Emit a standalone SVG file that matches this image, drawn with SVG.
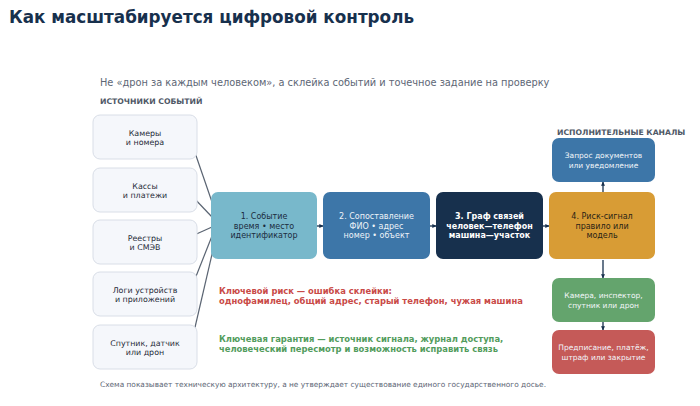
<svg xmlns="http://www.w3.org/2000/svg" width="700" height="406" viewBox="0 0 700 406">
<defs>
<style>
text{font-family:"DejaVu Sans","Noto Sans",sans-serif}
.title{font-size:16.8px;font-weight:bold;fill:#17304d}
.sub{font-size:9.8px;fill:#5d6675}
.sec{font-size:7.7px;font-weight:bold;fill:#4f5866}
.src rect{fill:#f5f7fb;stroke:#d9dee7;stroke-width:1}
.src text{font-size:7.9px;fill:#1f2a38;text-anchor:middle}
.main text{font-size:8px;text-anchor:middle}
.ch text{font-size:7.5px;fill:#f3f6fa;text-anchor:middle}
.note{font-size:8.4px;font-weight:bold}
.foot{font-size:7.4px;fill:#5d6675}
.feed{stroke:#5a6472;stroke-width:1.2;fill:none}
.flow{stroke:#17304d;stroke-width:1.3;fill:none;marker-end:url(#ah)}
</style>
<marker id="ah" viewBox="0 0 6 6" refX="5.5" refY="3" markerWidth="4" markerHeight="4" orient="auto" markerUnits="userSpaceOnUse">
<path d="M0,0 L6,3 L0,6 z" fill="#17304d"/>
</marker>
</defs>
<rect width="700" height="406" fill="#ffffff"/>
<text class="title" x="9" y="23">Как масштабируется цифровой контроль</text>
<text class="sub" x="100" y="86">Не «дрон за каждым человеком», а склейка событий и точечное задание на проверку</text>
<text class="sec" x="100" y="104">ИСТОЧНИКИ СОБЫТИЙ</text>
<text class="sec" x="557" y="135">ИСПОЛНИТЕЛЬНЫЕ КАНАЛЫ</text>

<g id="connectors">
<line class="feed" x1="192" y1="144" x2="212" y2="202"/>
<line class="feed" x1="192" y1="196" x2="212" y2="217"/>
<line class="feed" x1="192" y1="236" x2="212" y2="227"/>
<line class="feed" x1="193" y1="284" x2="212" y2="236"/>
<line class="feed" x1="193" y1="336" x2="213" y2="250"/>
<line class="flow" x1="317" y1="226" x2="323" y2="226"/>
<line class="flow" x1="430" y1="226" x2="436" y2="226"/>
<line class="flow" x1="543" y1="226" x2="549" y2="226"/>
<line class="flow" x1="603" y1="192" x2="603" y2="182"/>
<line class="flow" x1="603" y1="260" x2="603" y2="278"/>
<line class="flow" x1="603" y1="322" x2="603" y2="330"/>
</g>

<g id="src1" class="src"><rect x="93" y="115" width="104" height="44" rx="7"/><text x="145" y="135.5">Камеры</text><text x="145" y="145">и номера</text></g>
<g id="src2" class="src"><rect x="93" y="168" width="104" height="44" rx="7"/><text x="145" y="188.5">Кассы</text><text x="145" y="198">и платежи</text></g>
<g id="src3" class="src"><rect x="93" y="220" width="104" height="44" rx="7"/><text x="145" y="240.5">Реестры</text><text x="145" y="250">и СМЭВ</text></g>
<g id="src4" class="src"><rect x="93" y="272" width="104" height="44" rx="7"/><text x="145" y="292.5">Логи устройств</text><text x="145" y="302">и приложений</text></g>
<g id="src5" class="src"><rect x="93" y="325" width="104" height="44" rx="7"/><text x="145" y="345.5">Спутник, датчик</text><text x="145" y="355">или дрон</text></g>

<g id="n1" class="main"><rect x="211" y="192" width="106" height="67" rx="7" fill="#78b8cb"/><text fill="#1b2c40" x="264" y="219">1. Событие</text><text fill="#1b2c40" x="264" y="228.5">время • место</text><text fill="#1b2c40" x="264" y="238">идентификатор</text></g>
<g id="n2" class="main"><rect x="323" y="192" width="107" height="67" rx="7" fill="#3d76a8"/><text fill="#eef3f8" x="376.5" y="219">2. Сопоставление</text><text fill="#eef3f8" x="376.5" y="228.5">ФИО • адрес</text><text fill="#eef3f8" x="376.5" y="238">номер • объект</text></g>
<g id="n3" class="main"><rect x="436" y="192" width="107" height="67" rx="7" fill="#17304d"/><text fill="#ffffff" font-weight="bold" x="489.5" y="219">3. Граф связей</text><text fill="#ffffff" font-weight="bold" x="489.5" y="228.5">человек—телефон</text><text fill="#ffffff" font-weight="bold" x="489.5" y="238">машина—участок</text></g>
<g id="n4" class="main"><rect x="549" y="192" width="106" height="67" rx="7" fill="#d89c35"/><text fill="#2a2416" x="602" y="219">4. Риск-сигнал</text><text fill="#2a2416" x="602" y="228.5">правило или</text><text fill="#2a2416" x="602" y="238">модель</text></g>

<g id="c1" class="ch"><rect x="552" y="138" width="103" height="44" rx="7" fill="#3d76a8"/><text x="603.5" y="158">Запрос документов</text><text x="603.5" y="167.5">или уведомление</text></g>
<g id="c2" class="ch"><rect x="552" y="278" width="103" height="44" rx="7" fill="#64a46d"/><text x="603.5" y="298">Камера, инспектор,</text><text x="603.5" y="307.5">спутник или дрон</text></g>
<g id="c3" class="ch"><rect x="552" y="330" width="103" height="44" rx="7" fill="#c55a58"/><text x="603.5" y="350">Предписание, платёж,</text><text x="603.5" y="359.5">штраф или закрытие</text></g>

<text class="note" fill="#c94a47" x="219" y="294">Ключевой риск — ошибка склейки:</text>
<text class="note" fill="#c94a47" x="219" y="304">однофамилец, общий адрес, старый телефон, чужая машина</text>
<text class="note" fill="#529c5c" x="219" y="342">Ключевая гарантия — источник сигнала, журнал доступа,</text>
<text class="note" fill="#529c5c" x="219" y="352">человеческий пересмотр и возможность исправить связь</text>
<text class="foot" x="100" y="387">Схема показывает техническую архитектуру, а не утверждает существование единого государственного досье.</text>
</svg>
